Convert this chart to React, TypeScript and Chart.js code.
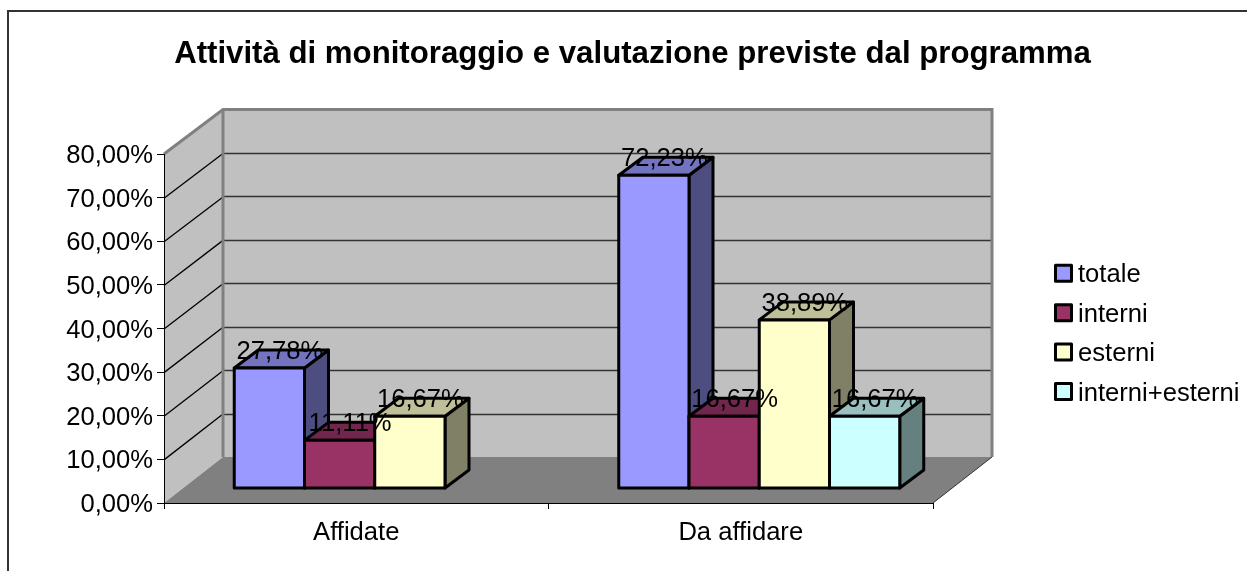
import React, { useEffect, useRef } from "react";
import { Chart, registerables } from "chart.js";

Chart.register(...registerables);

const categories = ["Affidate", "Da affidare"];
const seriesNames = ["totale", "interni", "esterni", "interni+esterni"];
const totale = [27.78, 72.23];
const interni = [11.11, 16.67];
const esterni = [16.67, 38.89];
const interniEsterni = [null, 16.67];
const yTicksStep = 10;
const yMax = 80;
const titleText = "Attività di monitoraggio e valutazione previste dal programma";

const frontColors = ["#9999FF", "#993366", "#FFFFCC", "#CCFFFF"];
const topColors = ["#7373BF", "#73264D", "#BFBF99", "#99BFBF"];
const sideColors = ["#4D4D80", "#4D1A33", "#808066", "#668080"];

const FONT = '"Liberation Sans", Arial, sans-serif';
const SIZE = 25.6;
const fmt = (v: number) => v.toFixed(2).replace(".", ",") + "%";

const threeD = {
  id: "threeD",
  afterLayout(chart: any) {
    // centre the title over the whole picture, not just the plot
    chart.titleBlock.left = 18;
    chart.titleBlock.right = 1247;
  },
  beforeDraw(chart: any) {
    const { ctx, chartArea: a, scales } = chart;
    const dx = 59, dy = -46;
    const y = scales.y;
    const backY = (p: number) => a.bottom + dy - (a.bottom - p) * 0.9955;
    ctx.save();
    // frame
    ctx.strokeStyle = "#333";
    ctx.lineWidth = 2;
    ctx.beginPath();
    ctx.moveTo(8, 571);
    ctx.lineTo(8, 11);
    ctx.lineTo(1247, 11);
    ctx.stroke();
    const bl = a.left + dx, br = a.right + dx, bb = backY(a.bottom), bt = backY(a.top);
    // walls
    ctx.fillStyle = "#C0C0C0";
    ctx.beginPath();
    ctx.moveTo(a.left, a.bottom);
    ctx.lineTo(a.left, a.top);
    ctx.lineTo(bl, bt);
    ctx.lineTo(br, bt);
    ctx.lineTo(br, bb);
    ctx.lineTo(bl, bb);
    ctx.closePath();
    ctx.fill();
    // floor
    ctx.fillStyle = "#808080";
    ctx.beginPath();
    ctx.moveTo(a.left, a.bottom);
    ctx.lineTo(a.right, a.bottom);
    ctx.lineTo(br, bb);
    ctx.lineTo(bl, bb);
    ctx.closePath();
    ctx.fill();
    ctx.strokeStyle = "#333";
    ctx.lineWidth = 1;
    ctx.beginPath();
    ctx.moveTo(a.right, a.bottom);
    ctx.lineTo(br, bb);
    ctx.stroke();
    // grid lines on the side wall and the back wall
    y.ticks.forEach((t: any) => {
      if (t.value === 0 || t.value === yMax) return;
      const p = y.getPixelForValue(t.value);
      ctx.strokeStyle = "#000";
      ctx.lineWidth = 1.3;
      ctx.beginPath();
      ctx.moveTo(a.left, p + 0.5);
      ctx.lineTo(bl, backY(p) + 0.5);
      ctx.stroke();
      ctx.strokeStyle = "#333";
      ctx.lineWidth = 1.5;
      ctx.beginPath();
      ctx.moveTo(bl, Math.round(backY(p)) + 0.5);
      ctx.lineTo(br, Math.round(backY(p)) + 0.5);
      ctx.stroke();
    });
    // wall edges
    ctx.strokeStyle = "#808080";
    ctx.lineWidth = 3;
    ctx.lineJoin = "miter";
    ctx.beginPath();
    ctx.moveTo(a.left, a.top);
    ctx.lineTo(bl, bt);
    ctx.lineTo(br, bt);
    ctx.lineTo(br, bb);
    ctx.moveTo(bl, bt);
    ctx.lineTo(bl, bb);
    ctx.stroke();
    ctx.restore();
  },
  beforeDatasetsDraw(chart: any) {
    const { ctx } = chart;
    const ox = 18.5, oy = -14.5, bx = 24, by = -18;
    ctx.save();
    ctx.lineWidth = 3;
    ctx.strokeStyle = "#000";
    ctx.lineJoin = "round";
    const labels: { t: string; x: number; y: number }[] = [];
    categories.forEach((_, c) => {
      chart.data.datasets.forEach((ds: any, i: number) => {
        const v = ds.data[c];
        if (v == null) return;
        const el = chart.getDatasetMeta(i).data[c];
        const l = el.x - el.width / 2 + ox;
        const r = el.x + el.width / 2 + ox;
        const b = el.base + oy;
        const tp = b - (el.base - el.y) * 0.994;
        const poly = (pts: number[][], fill: string) => {
          ctx.fillStyle = fill;
          ctx.beginPath();
          pts.forEach((q, k) => (k ? ctx.lineTo(q[0], q[1]) : ctx.moveTo(q[0], q[1])));
          ctx.closePath();
          ctx.fill();
          ctx.stroke();
        };
        poly([[r, b], [r + bx, b + by], [r + bx, tp + by], [r, tp]], sideColors[i]);
        poly([[l, tp], [r, tp], [r + bx, tp + by], [l + bx, tp + by]], topColors[i]);
        poly([[l, b], [r, b], [r, tp], [l, tp]], frontColors[i]);
        labels.push({ t: fmt(v), x: (l + r) / 2 + 10.5, y: tp + by + 2 });
      });
    });
    ctx.fillStyle = "#000";
    ctx.font = `${SIZE}px ${FONT}`;
    ctx.textAlign = "center";
    ctx.textBaseline = "middle";
    labels.forEach((q) => ctx.fillText(q.t, q.x, q.y));

    // legend
    ctx.textAlign = "left";
    chart.data.datasets.forEach((ds: any, i: number) => {
      const cy = 273.3 + i * 39.4;
      ctx.fillStyle = ds.backgroundColor;
      ctx.fillRect(1055.5, cy - 8, 16, 16);
      ctx.strokeRect(1055.5, cy - 8, 16, 16);
      ctx.fillStyle = "#000";
      ctx.fillText(ds.label, 1078, cy + 2);
    });
    ctx.restore();
    return false;
  },
};

export default function App() {
  const ref = useRef<HTMLCanvasElement>(null);
  useEffect(() => {
    const chart = new Chart(ref.current as HTMLCanvasElement, {
      type: "bar",
      data: {
        labels: categories,
        datasets: [totale, interni, esterni, interniEsterni].map((d, i) => ({
          label: seriesNames[i],
          data: d,
          backgroundColor: frontColors[i],
          borderColor: "#000",
          borderWidth: 3,
          categoryPercentage: 0.7308,
          barPercentage: 1,
        })),
      } as any,
      options: {
        responsive: false,
        animation: false,
        layout: { padding: { left: 18, right: 314, top: 0, bottom: 0 } },
        plugins: {
          legend: { display: false },
          tooltip: { enabled: false },
          title: {
            display: true,
            text: titleText,
            color: "#000",
            font: { family: FONT, size: 31.2, weight: "bold" },
            padding: { top: 35.3, bottom: 81.3 },
          },
        },
        scales: {
          x: {
            grid: { drawOnChartArea: false, color: "#000", tickLength: 6, offset: true },
            border: { color: "#000", width: 1 },
            ticks: { color: "#000", font: { family: FONT, size: SIZE }, padding: 8.5, maxRotation: 0 },
            afterFit: (s: any) => { s.height = 68; },
          },
          y: {
            min: 0,
            max: yMax,
            grid: { drawOnChartArea: false, color: "#000", tickLength: 7 },
            border: { color: "#000", width: 1 },
            ticks: {
              stepSize: yTicksStep,
              color: "#000",
              font: { family: FONT, size: SIZE },
              padding: 4,
              labelOffset: 2,
              callback: (v: any) => fmt(Number(v)),
            },
            afterFit: (s: any) => { s.width = 146; },
          },
        },
      } as any,
      plugins: [threeD as any],
    });
    return () => chart.destroy();
  }, []);
  return (
    <div style={{ position: "fixed", left: 0, top: 0, width: 1247, height: 571, background: "#fff" }}>
      <canvas ref={ref} width={1247} height={571} style={{ display: "block" }} />
    </div>
  );
}
